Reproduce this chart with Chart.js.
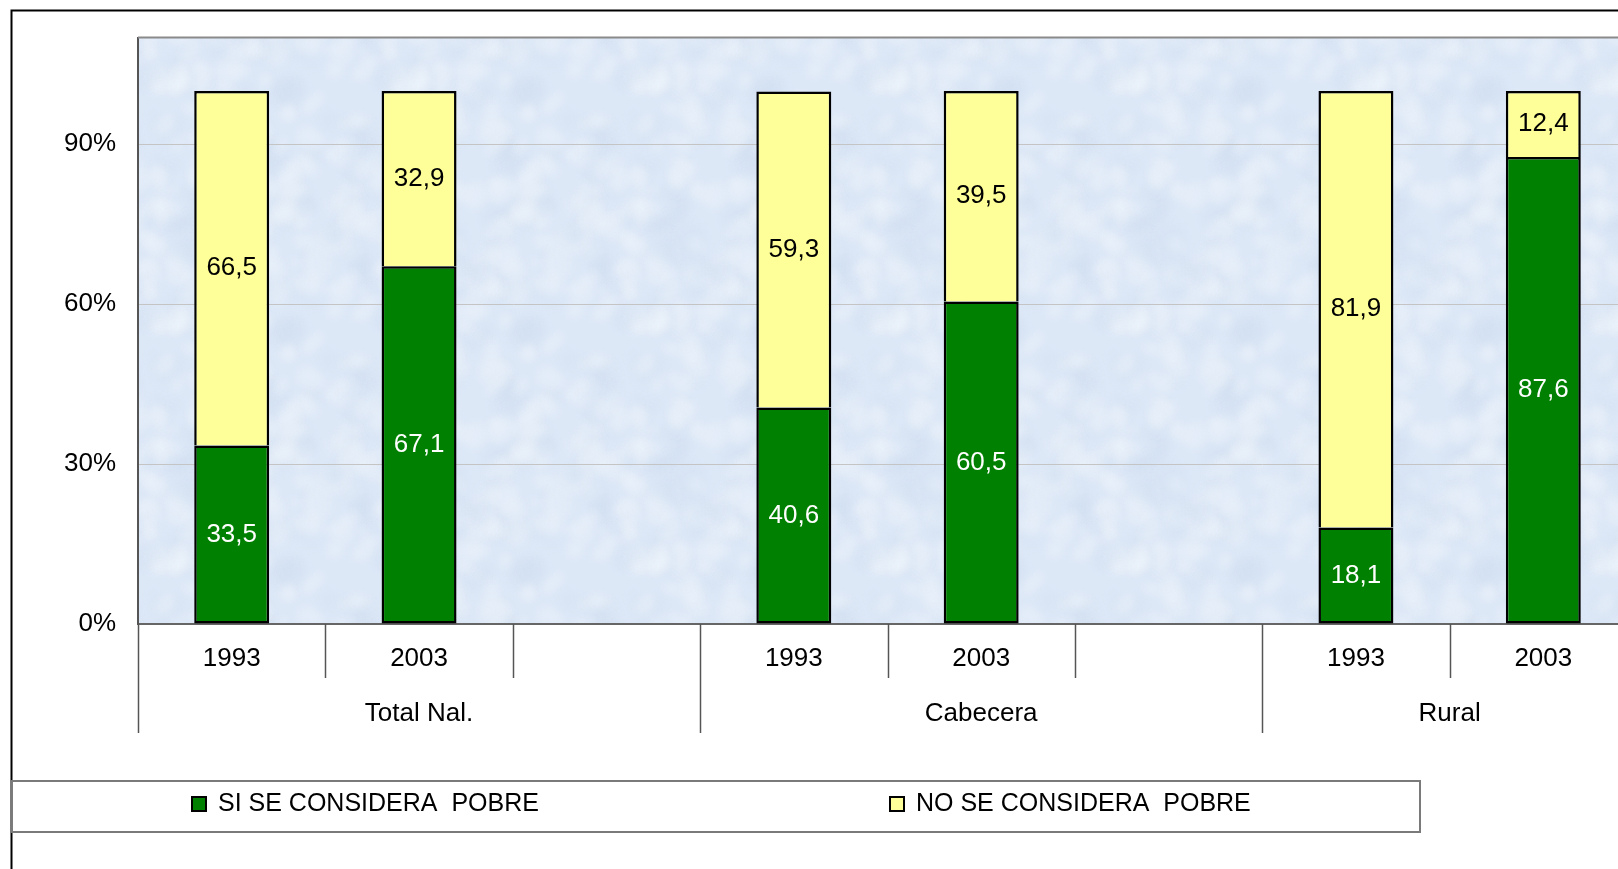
<!DOCTYPE html>
<html>
<head>
<meta charset="utf-8">
<script src="https://cdn.jsdelivr.net/npm/chart.js@4.4.1/dist/chart.umd.min.js"></script>
<style>
  html, body { margin: 0; padding: 0; background: #fff; overflow: hidden; }
  #wrap { position: absolute; left: 0; top: 0; width: 1700px; height: 869px; }
</style>
</head>
<body>
<div id="wrap"><canvas id="c" width="1700" height="869"></canvas></div>
<script>
// Category slots (year under each area group; empty slots are spacers)
const years = ['1993', '2003', '', '1993', '2003', '', '1993', '2003'];
const groups = ['Total Nal.', 'Cabecera', 'Rural'];
const groupSizes = [3, 3, 2];

// Share of households, per slot
const siPobre = [33.5, 67.1, null, 40.6, 60.5, null, 18.1, 87.6];
const noPobre = [66.5, 32.9, null, 59.3, 39.5, null, 81.9, 12.4];

const yTicks = [0, 30, 60, 90];

const FONT = '"Liberation Sans", Arial, sans-serif';
const SIZE = 26;

// Soft paper-like fill for the plot area
function makePaper() {
  const s = 240;
  const off = document.createElement('canvas');
  off.width = s; off.height = s;
  const g = off.getContext('2d');
  g.fillStyle = '#dde8f7';
  g.fillRect(0, 0, s, s);
  let seed = 98765;
  const rnd = () => { seed = (seed * 1103515245 + 12345) & 0x7fffffff; return seed / 0x7fffffff; };
  g.filter = 'blur(4px)';
  for (let i = 0; i < 220; i++) {
    const x = rnd() * s, y = rnd() * s, r = 4 + rnd() * 12;
    const light = rnd() > 0.4;
    g.fillStyle = light ? 'rgba(240,246,253,0.35)' : 'rgba(205,218,238,0.25)';
    const ry = r * (0.4 + rnd() * 0.6), rot = rnd() * Math.PI;
    for (const dx of [-s, 0, s]) for (const dy of [-s, 0, s]) {
      g.beginPath();
      g.ellipse(x + dx, y + dy, r, ry, rot, 0, Math.PI * 2);
      g.fill();
    }
  }
  return off;
}

const framePlugin = {
  id: 'frame',
  beforeDraw(chart) {
    const { ctx, chartArea: a, width, height } = chart;
    ctx.save();
    ctx.fillStyle = '#ffffff';
    ctx.fillRect(0, 0, width, height);
    // plot area paper fill
    ctx.fillStyle = ctx.createPattern(makePaper(), 'repeat');
    ctx.fillRect(a.left, a.top, a.right - a.left, a.bottom - a.top);
    // outer chart frame
    ctx.strokeStyle = '#000';
    ctx.lineWidth = 2;
    ctx.beginPath();
    ctx.moveTo(11.5, height);
    ctx.lineTo(11.5, 10.5);
    ctx.lineTo(width, 10.5);
    ctx.stroke();
    ctx.restore();
  },
  afterDraw(chart) {
    const { ctx, chartArea: a } = chart;
    const n = years.length;
    const slot = (a.right - a.left) / n;
    ctx.save();
    // plot area top edge
    ctx.strokeStyle = '#8a8a8a';
    ctx.lineWidth = 2;
    ctx.beginPath();
    ctx.moveTo(a.left, a.top);
    ctx.lineTo(a.right, a.top);
    ctx.stroke();

    // category separators: long ones at group boundaries
    const groupStarts = [];
    let acc = 0;
    groupSizes.forEach(sz => { groupStarts.push(acc); acc += sz; });
    groupStarts.push(acc);
    ctx.strokeStyle = '#555';
    ctx.lineWidth = 1.5;
    for (let i = 0; i <= n; i++) {
      const px = Math.round(a.left + i * slot) + 0.5;
      const long = groupStarts.includes(i);
      ctx.beginPath();
      ctx.moveTo(px, a.bottom);
      ctx.lineTo(px, long ? 733 : 678);
      ctx.stroke();
    }
    // group names
    ctx.fillStyle = '#000';
    ctx.font = SIZE + 'px ' + FONT;
    ctx.textAlign = 'center';
    ctx.textBaseline = 'middle';
    groups.forEach((gname, gi) => {
      const cx = a.left + (groupStarts[gi] + groupSizes[gi] / 2) * slot;
      ctx.fillText(gname, cx, 714);
    });

    // legend box
    ctx.strokeStyle = '#7a7a7a';
    ctx.lineWidth = 2;
    ctx.strokeRect(11.5, 781, 1408.5, 51);
    const items = [{ x: 192 }, { x: 890 }];
    chart.data.datasets.forEach((ds, i) => {
      const it = items[i];
      ctx.fillStyle = ds.backgroundColor;
      ctx.fillRect(it.x, 797, 14, 14);
      ctx.strokeStyle = '#000';
      ctx.lineWidth = 2;
      ctx.strokeRect(it.x, 797, 14, 14);
      ctx.fillStyle = '#000';
      ctx.font = '25px ' + FONT;
      ctx.textAlign = 'left';
      ctx.textBaseline = 'middle';
      ctx.fillText(ds.label, it.x + 26, 804);
    });
    ctx.restore();
  }
};

// Value labels centred in each stacked segment
const valueLabels = {
  id: 'valueLabels',
  afterDatasetsDraw(chart) {
    const { ctx } = chart;
    ctx.save();
    ctx.font = SIZE + 'px ' + FONT;
    ctx.textAlign = 'center';
    ctx.textBaseline = 'middle';
    chart.data.datasets.forEach((ds, di) => {
      const meta = chart.getDatasetMeta(di);
      meta.data.forEach((el, i) => {
        const v = ds.data[i];
        if (v == null) return;
        const { x, y, base } = el.getProps(['x', 'y', 'base'], true);
        ctx.fillStyle = ds.labelColor;
        ctx.fillText(v.toFixed(1).replace('.', ','), x, (y + base) / 2);
      });
    });
    ctx.restore();
  }
};

new Chart(document.getElementById('c'), {
  type: 'bar',
  data: {
    labels: years,
    datasets: [
      {
        label: 'SI SE CONSIDERA  POBRE',
        data: siPobre,
        backgroundColor: '#008000',
        borderColor: '#000',
        borderWidth: 2.5,
        borderSkipped: false,
        labelColor: '#ffffff',
        barPercentage: 0.4,
        categoryPercentage: 1
      },
      {
        label: 'NO SE CONSIDERA  POBRE',
        data: noPobre,
        backgroundColor: '#ffff99',
        borderColor: '#000',
        borderWidth: 2.5,
        borderSkipped: 'start',
        labelColor: '#000000',
        barPercentage: 0.4,
        categoryPercentage: 1
      }
    ]
  },
  options: {
    responsive: false,
    animation: false,
    layout: { padding: { top: 37, right: 63, bottom: 0, left: 0 } },
    plugins: { legend: { display: false }, tooltip: { enabled: false }, title: { display: false } },
    scales: {
      x: {
        stacked: true,
        offset: true,
        grid: { display: false, drawTicks: false },
        border: { display: true, color: '#666', width: 2 },
        ticks: { color: '#000', font: { family: FONT, size: SIZE }, padding: 19, autoSkip: false, maxRotation: 0 },
        afterFit(s) { s.height = 245; }
      },
      y: {
        stacked: true,
        min: 0,
        max: 110,
        afterBuildTicks(s) { s.ticks = yTicks.map(v => ({ value: v })); },
        grid: { color: '#c4c4c4', lineWidth: 1, drawTicks: false },
        border: { display: true, color: '#555', width: 2 },
        ticks: {
          color: '#000',
          font: { family: FONT, size: SIZE },
          padding: 22,
          callback: v => v + '%'
        },
        afterFit(s) { s.width = 138; }
      }
    }
  },
  plugins: [framePlugin, valueLabels]
});
</script>
</body>
</html>
